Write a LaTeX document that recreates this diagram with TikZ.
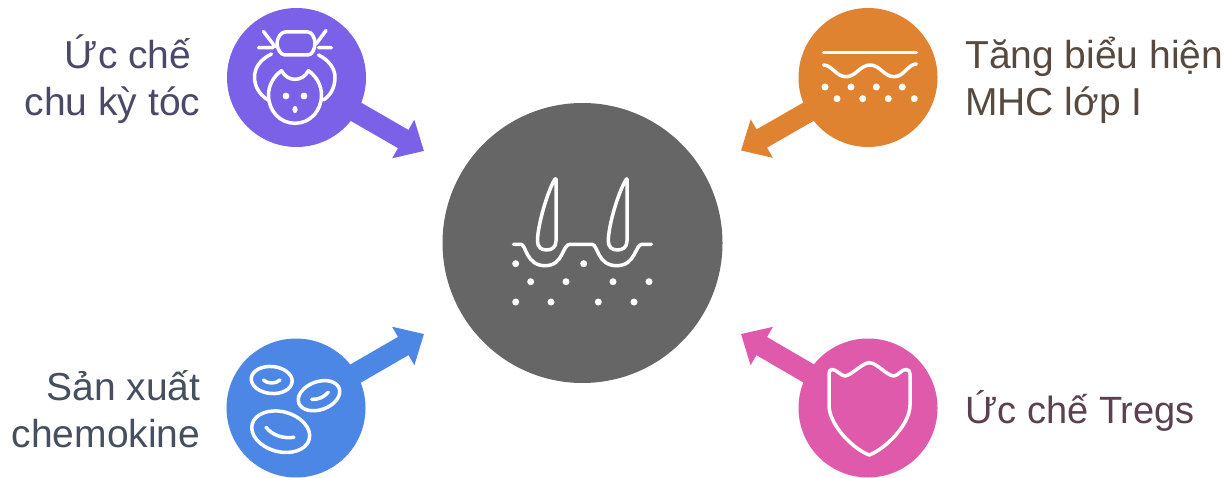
\documentclass[tikz,border=0pt]{standalone}
\usepackage{fontspec}
\setmainfont{Liberation Sans}
\usetikzlibrary{arrows.meta}
\definecolor{cpurple}{HTML}{7B61E8}
\definecolor{corange}{HTML}{DF8330}
\definecolor{cblue}{HTML}{4C87E6}
\definecolor{cpink}{HTML}{DF5AAB}
\definecolor{cgrey}{HTML}{666666}
\definecolor{tpurple}{HTML}{4A4A68}
\definecolor{torange}{HTML}{564A40}
\definecolor{tblue}{HTML}{454F60}
\definecolor{tpink}{HTML}{5A4050}
\tikzset{
  x=1pt,y=-1pt,
  disc/.style={circle,inner sep=0pt,minimum size=139pt,fill=#1},
  link/.style={draw=#1,line width=21pt,shorten <=-4pt,-{Triangle[length=24pt,width=43pt]}},
  ico/.style={draw=white,line width=3.5pt,line cap=round,line join=round},
  dotw/.style={fill=white,draw=none},
  lab/.style={font=\fontsize{39pt}{47pt}\selectfont,inner sep=0pt},
}
\begin{document}
\begin{tikzpicture}
\useasboundingbox (0,0) rectangle (1230,478);
\node[circle,inner sep=0pt,minimum size=280pt,fill=cgrey] (hub) at (582.5,243) {};
\node[disc=cpurple] (p) at (296.5,77.5) {};
\node[disc=corange] (o) at (868,77.5) {};
\node[disc=cblue] (b) at (296,408) {};
\node[disc=cpink] (k) at (868,408) {};
\coordinate (pe) at (424,151);
\coordinate (oe) at (741,150.5);
\coordinate (be) at (424,334);
\coordinate (ke) at (741,334);
\draw[link=cpurple] (p) -- (pe);
\draw[link=corange] (o) -- (oe);
\draw[link=cblue] (b) -- (be);
\draw[link=cpink] (k) -- (ke);
% labels
\node[lab,text=tpurple,align=right,anchor=east] (lp) at (200.5,79) {Ức chế\hspace*{9pt}\\chu kỳ tóc};
\node[lab,text=torange,align=left,anchor=west] (lo) at (965,80) {Tăng biểu hiện\\MHC lớp I};
\node[lab,text=tblue,align=right,anchor=east] (lb) at (200.5,409.5) {Sản xuất\\chemokine};
\node[lab,text=tpink,anchor=west,font=\fontsize{38pt}{47pt}\selectfont] (lk) at (965,411) {Ức chế Tregs};
% purple icon
\draw[ico] (285,32) -- (308,32) .. controls (312,32) and (315,38) .. (315,43.5) .. controls (315,49) and (312,55) .. (308,55) -- (285,55) .. controls (281,55) and (277,49) .. (277,43.5) .. controls (277,38) and (281,32) .. (285,32) -- cycle;
\draw[ico] (263.5,31.5) -- (275,46.5) (326,30.5) -- (316.5,43.5) (258.5,47.7) -- (273,47.7) (318.5,47.7) -- (331.5,47.7);
\draw[ico] (271.5,54) .. controls (259,60) and (254.5,69) .. (254.5,77) .. controls (254.5,87) and (260,95) .. (268,100);
\draw[ico] (318.5,55) .. controls (329,60) and (335,69) .. (335,77) .. controls (335,87) and (331,95) .. (323.5,100);
\draw[ico] (281.5,70.7) .. controls (285,77) and (290,79.3) .. (295,79.3) .. controls (300,79.3) and (305,77) .. (308.5,70.7) .. controls (316,76) and (321.5,85) .. (321.5,95) .. controls (321.5,111) and (310,123.3) .. (295,123.3) .. controls (280,123.3) and (268.5,111) .. (268.5,95) .. controls (268.5,85) and (274,76) .. (281.5,70.7) -- cycle;
\fill[dotw] (286,96) circle (3.4pt) (304,96) circle (3.4pt);
\fill[dotw] (295,109.5) ellipse (2.6pt and 3.6pt);
% orange icon
\draw[ico] (823.5,52.7) -- (916.5,52.7);
\draw[ico] (823.5,65) .. controls (832,65) and (836,76.7) .. (846,76.7) .. controls (856,76.7) and (860,65) .. (870,65) .. controls (880,65) and (884,76.7) .. (894,76.7) .. controls (904,76.7) and (908,64) .. (916.5,64);
\foreach \px/\py in {825/87,851/87,876.3/87,902.3/87,837/98.7,862.7/98.7,888.3/98.7,914.3/98.7}
  \fill[dotw] (\px,\py) circle (3.5pt);
% blue icon
\draw[ico] (271.7,380) ellipse [x radius=20.5,y radius=13.5,rotate=-5];
\draw[ico] (263.5,380) .. controls (267,384) and (276,384) .. (280,380);
\draw[ico] (319,395.7) ellipse [x radius=21.5,y radius=14,rotate=20];
\draw[ico] (311.7,399.3) .. controls (318,400) and (324,397) .. (328.3,392.3);
\draw[ico] (280.7,431.7) ellipse [x radius=29.5,y radius=20,rotate=-15];
\draw[ico] (266,427.3) .. controls (272,435) and (283,439) .. (294,437.3);
% pink icon
\draw[ico] (832,369.5) .. controls (836,369) and (841,376) .. (845,376) .. controls (852,375) and (862,363) .. (869.3,362.7) .. controls (877,363) and (886,375) .. (893.5,376) .. controls (898,376) and (902,369) .. (906,369.5) .. controls (908.5,369.5) and (910,371) .. (910,374) -- (910,405) .. controls (910,425) and (885,449) .. (869.3,455) .. controls (853,449) and (829,425) .. (829,405) -- (829,374) .. controls (829,371) and (830,369.5) .. (832,369.5) -- cycle;
% hub icon
\draw[ico] (555,179) .. controls (548,190) and (537.5,225) .. (537.5,241) .. controls (537.5,247) and (541,250) .. (546.7,250) .. controls (552,250) and (556,247) .. (556,241) -- (556,179) -- cycle;
\draw[ico] (626.5,179) .. controls (619,190) and (608.3,225) .. (608.3,241) .. controls (608.3,247) and (612,250) .. (617.5,250) .. controls (623,250) and (627,247) .. (627,241) -- (627,179) -- cycle;
\draw[ico] (513.5,244.3) -- (521,244.3) .. controls (526,244.3) and (526,265.7) .. (545,265.7) .. controls (564,265.7) and (562,244.3) .. (570,244.3) -- (592,244.3) .. controls (598,244.3) and (597,265.7) .. (616.7,265.7) .. controls (636,265.7) and (635,244.3) .. (642,244.3) -- (651.5,244.3);
\foreach \px/\py in {515.7/263.7,583.7/263.7,530.7/281.7,566/281.7,613/281.7,649/281.7,515.7/302,551/302,598.3/302,634/302}
  \fill[dotw] (\px,\py) circle (3.5pt);
\end{tikzpicture}
\end{document}
